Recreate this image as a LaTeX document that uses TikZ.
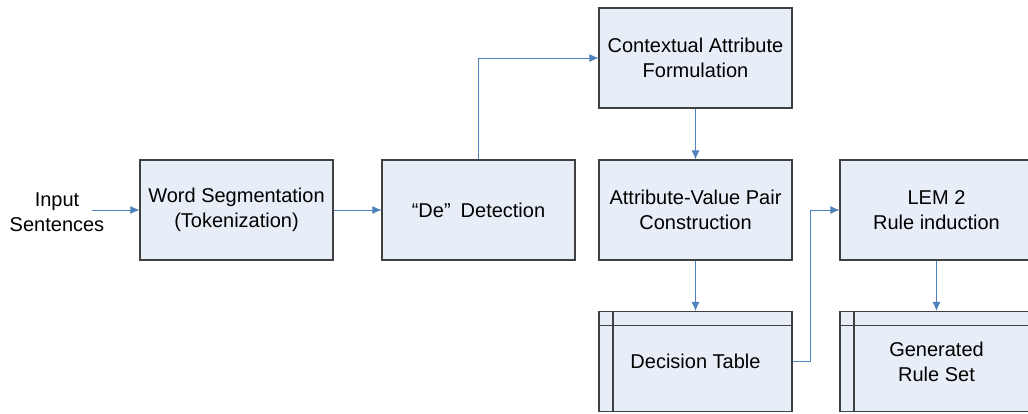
\documentclass[tikz,border=0pt]{standalone}
\usepackage{fontspec}
\setmainfont{Liberation Sans}
\usetikzlibrary{arrows.meta}
\definecolor{boxfill}{RGB}{232,238,247}
\definecolor{boxline}{RGB}{64,64,64}
\definecolor{flow}{RGB}{79,129,189}
\begin{document}
\begin{tikzpicture}[x=1pt,y=-1pt,
  box/.style={draw=boxline,line width=1.1pt,fill=boxfill,minimum width=193pt,
    minimum height=100pt,align=center,font=\fontsize{20}{25}\selectfont},
  tablebox/.style={box,path picture={
    \draw[boxline,line width=1.1pt] ([yshift=-14pt]path picture bounding box.north west) -- ([yshift=-14pt]path picture bounding box.north east);
    \draw[boxline,line width=1.1pt] ([xshift=14pt]path picture bounding box.north west) -- ([xshift=14pt]path picture bounding box.south west);}},
  flowline/.style={draw=flow,line width=0.9pt,-{Latex[length=9pt,width=8pt]}}]
\clip (0,0) rectangle (1028,413);
%\draw[very thin,gray,step=50] (0,0) grid (1028,413);
\node[align=center,font=\fontsize{20}{25}\selectfont] (input) at (57,212) {Input\\Sentences};
\coordinate (start) at (92,210);
\node[box] (seg) at (236.5,210) {Word Segmentation\\(Tokenization)};
\node[box] (de) at (478.5,210) {“De”\hspace{0.5em}Detection};
\node[box] (ctx) at (695.5,58) {Contextual Attribute\\Formulation};
\node[box] (avp) at (695.5,210) {Attribute-Value Pair\\Construction};
\node[box] (lem) at (936.5,210) {LEM 2\\Rule induction};
\node[tablebox] (dt) at (695.5,361.5) {Decision Table};
\node[tablebox] (grs) at (936.5,361.5) {Generated\\Rule Set};
\draw[flowline] (start) -- (seg);
\draw[flowline] (seg) -- (de);
\draw[flowline] (de.north) |- (ctx.west);
\draw[flowline] (ctx) -- (avp);
\draw[flowline] (avp) -- (dt);
\draw[flowline] (dt.east) -- ++(18,0) |- (lem.west);
\draw[flowline] (lem) -- (grs);
\end{tikzpicture}
\end{document}
